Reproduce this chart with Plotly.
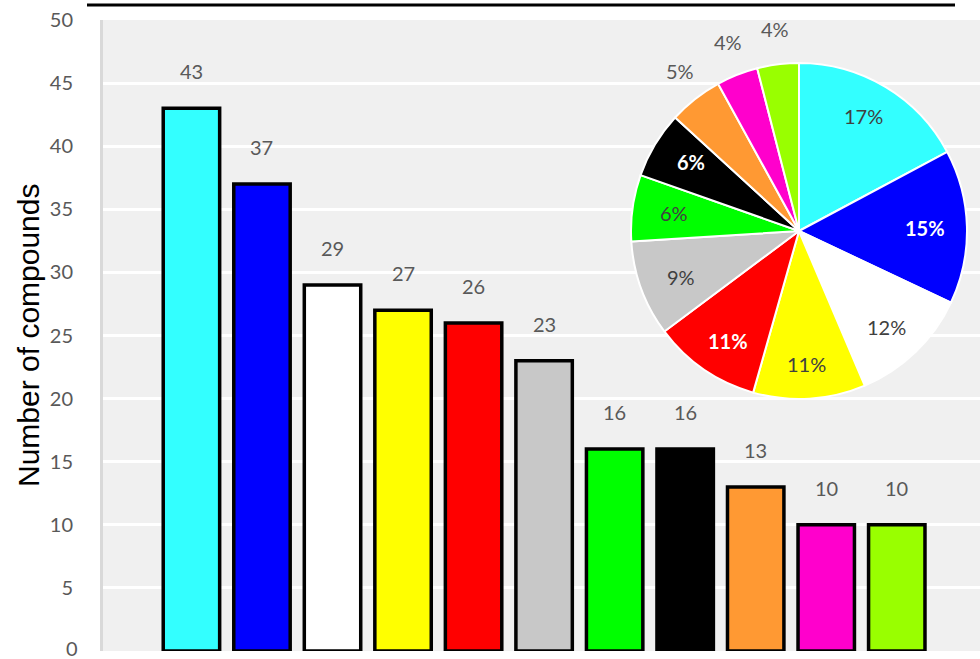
import math
import plotly.graph_objects as go

categories = ["A", "B", "C", "D", "E", "F", "G", "H", "I", "J", "K"]
counts = [43, 37, 29, 27, 26, 23, 16, 16, 13, 10, 10]
colors = ["#33ffff", "#0000ff", "#ffffff", "#ffff00", "#ff0000", "#c8c8c8",
          "#00ff00", "#000000", "#ff9933", "#ff00cc", "#99ff00"]
pie_labels = ["17%", "15%", "12%", "11%", "11%", "9%", "6%", "6%", "5%", "4%", "4%"]
pie_bold = [False, True, False, False, True, False, False, True, False, False, False]
pie_text_colors = ["#404040", "#ffffff", "#404040", "#404040", "#ffffff", "#404040",
                   "#404040", "#ffffff", "#595959", "#595959", "#595959"]
pie_inside = [True] * 8 + [False] * 3
y_ticks = [0, 5, 10, 15, 20, 25, 30, 35, 40, 45, 50]
y_title = "Number of compounds"

W, H = 980, 659
ML, MR, MT, MB = 103, 0, 20, 8
PW, PH = W - ML - MR, H - MT - MB
FONT = "Lato"
FS = 20

fig = go.Figure()
fig.add_trace(go.Bar(
    x=list(range(len(categories))), y=counts,
    marker=dict(color=colors, line=dict(color="#000000", width=3.5)),
    width=0.8, showlegend=False, hoverinfo="skip",
))

for i, v in enumerate(counts):
    fig.add_annotation(x=i, y=v, text=str(v), showarrow=False, yanchor="middle",
                       yshift=37, font=dict(family=FONT, size=FS, color="#595959"))

# pie geometry (pixels -> paper)
pcx, pcy, pr = 799, 231, 168
dom_x = [(pcx - pr - ML) / PW, (pcx + pr - ML) / PW]
dom_y = [(H - MB - (pcy + pr)) / PH, (H - MB - (pcy - pr)) / PH]

fig.add_trace(go.Pie(
    values=counts, labels=categories, textinfo="none",
    marker=dict(colors=colors, line=dict(color="#ffffff", width=2)),
    sort=False, direction="clockwise", rotation=0,
    domain=dict(x=dom_x, y=dom_y),
    showlegend=False, hoverinfo="skip",
))

# pie labels positioned from the slice mid-angles
total = sum(counts)
cum = 0
for v, t, b, c, ins in zip(counts, pie_labels, pie_bold, pie_text_colors, pie_inside):
    mid = (cum + v / 2) / total * 2 * math.pi
    cum += v
    rr = pr * 0.75 if ins else pr + 24
    px = pcx + rr * math.sin(mid)
    py = pcy - rr * 1.06 * math.cos(mid)
    fig.add_annotation(xref="paper", yref="paper", x=(px - ML) / PW, y=(H - MB - py) / PH,
                       text=("<b>%s</b>" % t) if b else t, showarrow=False,
                       xanchor="center", yanchor="middle",
                       font=dict(family=FONT, size=FS, color=c))

# "0" tick label (drawn as annotation so it is not dropped at the page edge)
fig.add_annotation(xref="paper", yref="y", x=0, y=0, text=str(y_ticks[0]), showarrow=False,
                   xanchor="right", yanchor="middle", xshift=-23, yshift=3,
                   font=dict(family=FONT, size=FS, color="#595959"))

# y-axis title
fig.add_annotation(xref="paper", yref="paper", x=(28 - ML) / PW, y=(H - MB - 335) / PH,
                   text=y_title, textangle=-90, showarrow=False,
                   xanchor="center", yanchor="middle",
                   font=dict(family="Liberation Sans", size=30, color="#000000"))

fig.add_shape(type="line", xref="paper", yref="paper", x0=(87 - ML) / PW, x1=(955 - ML) / PW,
              y0=(H - MB - 5) / PH, y1=(H - MB - 5) / PH, line=dict(color="#000000", width=3))

fig.update_layout(
    width=W, height=H,
    margin=dict(l=ML, r=MR, t=MT, b=MB, autoexpand=False),
    paper_bgcolor="#ffffff", plot_bgcolor="#f0f0f0",
)
fig.update_xaxes(range=[-1.254, 11.18], showticklabels=False, showgrid=False,
                 zeroline=False, showline=False, automargin=False)
fig.update_yaxes(range=[0, 50], tickvals=y_ticks, showgrid=True, gridcolor="#ffffff",
                 gridwidth=3, zeroline=False, showline=True, linecolor="#d9d9d9",
                 linewidth=3, ticks="", ticklabelstandoff=23, automargin=False,
                 tickfont=dict(family=FONT, size=FS, color="#595959"))

fig.write_html("out.html")
